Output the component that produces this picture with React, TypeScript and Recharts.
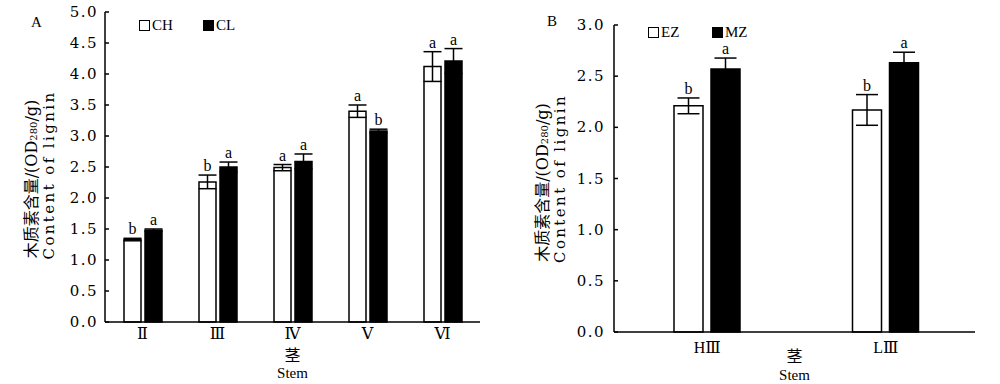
import React from "react";
import {
  BarChart,
  Bar,
  XAxis,
  YAxis,
  Legend,
  ErrorBar,
  LabelList,
} from "recharts";

// panel A: stem sections
const stagesA = ["Ⅱ", "Ⅲ", "Ⅳ", "Ⅴ", "Ⅵ"];
const chValues = [1.33, 2.26, 2.49, 3.4, 4.12];
const chErrors = [0.02, 0.11, 0.05, 0.1, 0.24];
const chLetters = ["b", "b", "a", "a", "a"];
const clValues = [1.48, 2.5, 2.59, 3.08, 4.21];
const clErrors = [0.02, 0.08, 0.12, 0.03, 0.2];
const clLetters = ["a", "a", "a", "b", "a"];
const ticksA = [0, 0.5, 1, 1.5, 2, 2.5, 3, 3.5, 4, 4.5, 5];

// panel B
const stagesB = ["HⅢ", "LⅢ"];
const ezValues = [2.21, 2.17];
const ezErrors = [0.077, 0.15];
const ezLetters = ["b", "b"];
const mzValues = [2.57, 2.63];
const mzErrors = [0.107, 0.104];
const mzLetters = ["a", "a"];
const ticksB = [0, 0.5, 1, 1.5, 2, 2.5, 3];

const dataA = stagesA.map((s, i) => ({
  stage: s,
  ch: chValues[i],
  chErr: chErrors[i],
  cl: clValues[i],
  clErr: clErrors[i],
}));

const dataB = stagesB.map((s, i) => ({
  stage: s,
  ez: ezValues[i],
  ezErr: ezErrors[i],
  mz: mzValues[i],
  mzErr: mzErrors[i],
}));

const SERIF = "'Liberation Serif', 'DejaVu Serif', serif";
const NUM = "'DejaVu Serif', serif";
const CJK = "'DejaVu Serif', 'Noto Sans CJK SC', serif";

const letterLabel = (letters: string[], errs: number[]) => (props: any) => {
  const { x, y, width, height, index, value } = props;
  const v = Number(value);
  if (!v) return null;
  const px = Number(height) / v;
  const top = Number(y) - errs[index] * px;
  return (
    <text
      x={Number(x) + Number(width) / 2}
      y={top - 4}
      textAnchor="middle"
      fontFamily={SERIF}
      fontSize={16}
      fill="#000"
    >
      {letters[index]}
    </text>
  );
};

const makeYTick = (gap: number) => (props: any) => {
  const { x, y, payload } = props;
  return (
    <g>
      <line x1={x + gap} x2={x + gap + 4} y1={y} y2={y} stroke="#000" strokeWidth={1.5} />
      <text
        x={x}
        y={y}
        textAnchor="end"
        dominantBaseline="central"
        fontFamily={NUM}
        fontSize={15}
        letterSpacing={1.5}
        fill="#000"
      >
        {Number(payload.value).toFixed(1)}
      </text>
    </g>
  );
};

const XTick = (props: any) => {
  const { x, y, payload } = props;
  return (
    <text x={x} y={y} dy="0.71em" textAnchor="middle" fontFamily={SERIF} fontSize={16} fill="#000">
      {payload.value}
    </text>
  );
};

const yTitle = (cnDx: number, enDx: number, dy: number) => (props: any) => {
  const { x, y, height } = props.viewBox;
  const cy = y + height / 2 + dy;
  const cx1 = x + cnDx;
  const cx2 = x + enDx;
  return (
    <g>
      <text
        x={cx1}
        y={cy + 4}
        transform={`rotate(-90, ${cx1}, ${cy + 4})`}
        textAnchor="middle"
        dominantBaseline="central"
        fontFamily={CJK}
        fontSize={16}
        fill="#000"
      >
        木质素含量/(OD
        <tspan fontSize={10} dy={2}>280</tspan>
        <tspan dy={-2}>/g)</tspan>
      </text>
      <text
        x={cx2}
        y={cy}
        transform={`rotate(-90, ${cx2}, ${cy})`}
        textAnchor="middle"
        dominantBaseline="central"
        fontFamily={NUM}
        fontSize={15}
        letterSpacing={2.4}
        fill="#000"
      >
        Content of lignin
      </text>
    </g>
  );
};

const xTitle = (dy1: number, dy2: number) => (props: any) => {
  const { x, y, width } = props.viewBox;
  const cx = x + width / 2;
  return (
    <g>
      <text x={cx} y={y + dy1} textAnchor="middle" fontFamily="'Noto Sans CJK SC', sans-serif" fontSize={16} fill="#000">
        茎
      </text>
      <text x={cx} y={y + dy2} textAnchor="middle" fontFamily={SERIF} fontSize={15} fill="#000">
        Stem
      </text>
    </g>
  );
};

const legendContent = (items: { name: string; fill: string }[]) => () => (
  <div style={{ display: "flex" }}>
    {items.map((it) => (
      <div key={it.name} style={{ width: 64, display: "flex", alignItems: "center" }}>
        <span
          style={{
            display: "inline-block",
            width: 11,
            height: 11,
            boxSizing: "border-box",
            border: "1.5px solid #000",
            background: it.fill,
          }}
        />
        <span style={{ marginLeft: 2, fontFamily: SERIF, fontSize: 15, lineHeight: "15px", color: "#000" }}>
          {it.name}
        </span>
      </div>
    ))}
  </div>
);

const panelLetter = (text: string, left: number, top: number) => (
  <div
    style={{
      position: "absolute",
      left,
      top,
      fontFamily: SERIF,
      fontSize: 15,
      lineHeight: "15px",
    }}
  >
    {text}
  </div>
);

export default function App() {
  return (
    <div style={{ position: "absolute", left: 0, top: 0, width: 1000, height: 384, background: "#fff" }}>
      <div style={{ position: "absolute", left: 0, top: 0 }}>
        <BarChart
          width={500}
          height={384}
          data={dataA}
          margin={{ top: 12, right: 20, left: 65, bottom: 0 }}
          barSize={17}
          barGap={4}
        >
          <XAxis
            dataKey="stage"
            interval={0}
            height={62}
            tickLine={false}
            tickSize={0}
            tickMargin={6}
            axisLine={{ stroke: "#000", strokeWidth: 1.5 }}
            tick={XTick}
            label={{ content: xTitle(39, 56) }}
          />
          <YAxis
            width={40}
            domain={[0, 5]}
            ticks={ticksA}
            interval={0}
            tickLine={false}
            tickSize={0}
            tickMargin={7}
            axisLine={{ stroke: "#000", strokeWidth: 1.5 }}
            tick={makeYTick(7)}
            label={{ content: yTitle(-34, -16, 8) }}
          />
          <Legend
            layout="horizontal"
            verticalAlign="middle"
            align="center"
            wrapperStyle={{ left: 139, top: 18, width: 140 }}
            content={legendContent([
              { name: "CH", fill: "#fff" },
              { name: "CL", fill: "#000" },
            ])}
          />
          <Bar dataKey="ch" name="CH" fill="#fff" stroke="#000" strokeWidth={1.5} isAnimationActive={false}>
            <ErrorBar dataKey="chErr" width={9} stroke="#000" strokeWidth={1.5} direction="y" />
            <LabelList dataKey="ch" content={letterLabel(chLetters, chErrors)} />
          </Bar>
          <Bar dataKey="cl" name="CL" fill="#000" stroke="#000" strokeWidth={1.5} isAnimationActive={false}>
            <ErrorBar dataKey="clErr" width={9} stroke="#000" strokeWidth={1.5} direction="y" />
            <LabelList dataKey="cl" content={letterLabel(clLetters, clErrors)} />
          </Bar>
        </BarChart>
      </div>
      {panelLetter("A", 31, 15)}

      <div style={{ position: "absolute", left: 500, top: 0 }}>
        <BarChart
          width={500}
          height={384}
          data={dataB}
          margin={{ top: 25, right: 25, left: 74, bottom: 0 }}
          barSize={29}
          barGap={8}
        >
          <XAxis
            dataKey="stage"
            interval={0}
            height={52}
            padding={{ left: 4, right: 0 }}
            tickLine={false}
            tickSize={0}
            tickMargin={10}
            axisLine={{ stroke: "#000", strokeWidth: 1.5 }}
            tick={XTick}
            label={{ content: xTitle(30, 48) }}
          />
          <YAxis
            width={40}
            domain={[0, 3]}
            ticks={ticksB}
            interval={0}
            tickLine={false}
            tickSize={0}
            tickMargin={9}
            axisLine={{ stroke: "#000", strokeWidth: 1.5 }}
            tick={makeYTick(9)}
            label={{ content: yTitle(-32, -14, 0) }}
          />
          <Legend
            layout="horizontal"
            verticalAlign="middle"
            align="center"
            wrapperStyle={{ left: 148, top: 25, width: 140 }}
            content={legendContent([
              { name: "EZ", fill: "#fff" },
              { name: "MZ", fill: "#000" },
            ])}
          />
          <Bar dataKey="ez" name="EZ" fill="#fff" stroke="#000" strokeWidth={1.5} isAnimationActive={false}>
            <ErrorBar dataKey="ezErr" width={11} stroke="#000" strokeWidth={1.5} direction="y" />
            <LabelList dataKey="ez" content={letterLabel(ezLetters, ezErrors)} />
          </Bar>
          <Bar dataKey="mz" name="MZ" fill="#000" stroke="#000" strokeWidth={1.5} isAnimationActive={false}>
            <ErrorBar dataKey="mzErr" width={11} stroke="#000" strokeWidth={1.5} direction="y" />
            <LabelList dataKey="mz" content={letterLabel(mzLetters, mzErrors)} />
          </Bar>
        </BarChart>
      </div>
      {panelLetter("B", 547, 14)}
    </div>
  );
}
